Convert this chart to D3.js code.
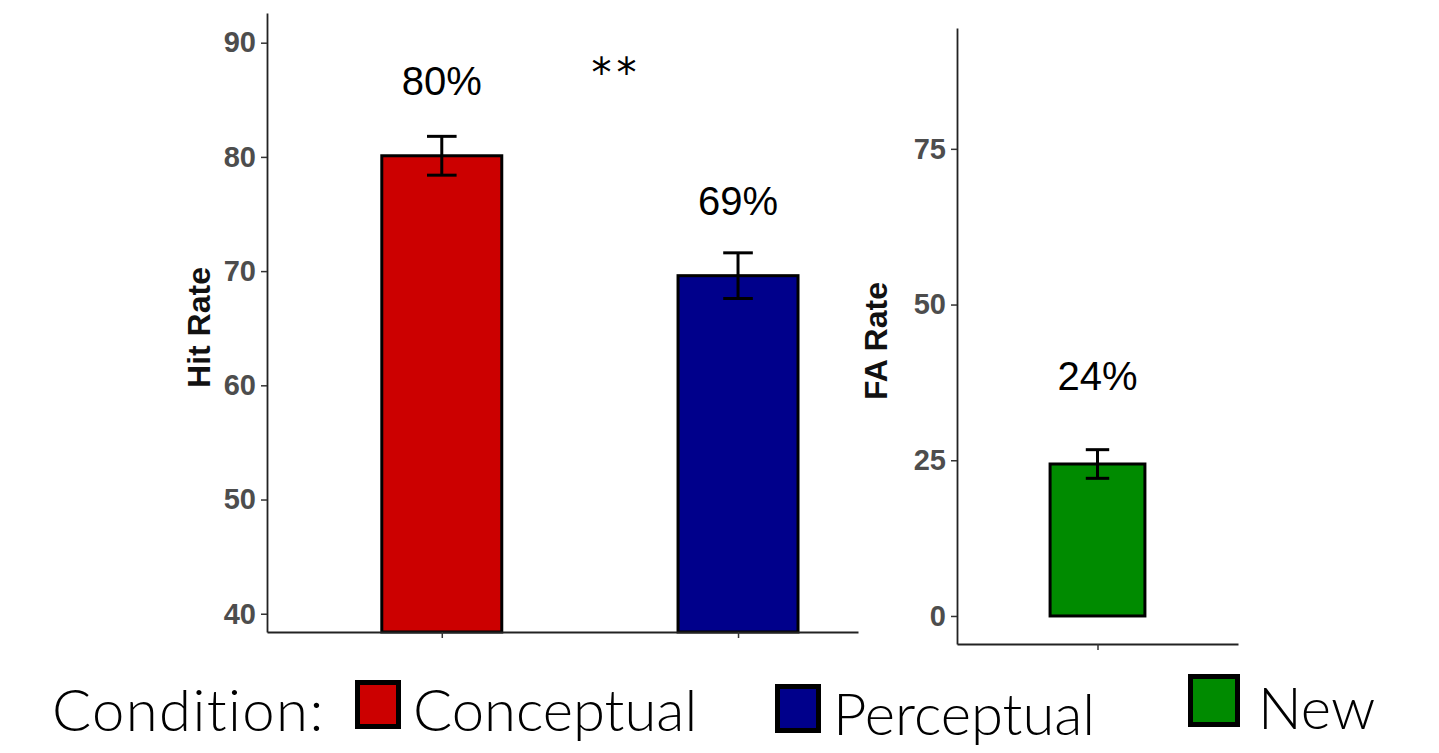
<!DOCTYPE html>
<html>
<head>
<meta charset="utf-8">
<script src="https://d3js.org/d3.v7.min.js"></script>
<style>
  body { margin: 0; background: #fff; }
  svg { display: block; }
</style>
</head>
<body>
<svg width="1439" height="753" id="chart"></svg>
<script>
// data
const hitConditions = ["Conceptual", "Perceptual"];
const hitMeans = [80.1, 69.6];
const hitSE = [1.7, 2.0];
const hitLabels = ["80%", "69%"];
const hitTicks = [40, 50, 60, 70, 80, 90];

const faConditions = ["New"];
const faMeans = [24.4];
const faSE = [2.3];
const faLabels = ["24%"];
const faTicks = [0, 25, 50, 75];

const conditions = ["Conceptual", "Perceptual", "New"];
const colours = ["#cc0000", "#00008b", "#008b00"];
const colour = d3.scaleOrdinal().domain(conditions).range(colours);

const svg = d3.select("#chart");

const barW = 0.405, capW = 0.1;

function panel(opts) {
  const x = d3.scaleLinear().domain(opts.xDomain).range(opts.xRange);
  const y = d3.scaleLinear().domain(opts.yDomain).range(opts.yRange);
  const g = svg.append("g");
  const rows = opts.cats.map((c, i) => ({cat: c, mean: opts.means[i], se: opts.se[i], label: opts.labels[i], pos: i + 1}));

  // bars
  g.selectAll(".bar").data(rows).enter().append("rect")
    .attr("class", "bar")
    .attr("x", d => x(d.pos - barW / 2))
    .attr("width", d => x(d.pos + barW / 2) - x(d.pos - barW / 2))
    .attr("y", d => y(d.mean))
    .attr("height", d => y(opts.base) - y(d.mean))
    .attr("fill", d => colour(d.cat))
    .attr("stroke", "#000")
    .attr("stroke-width", 3);

  // error bars
  const eb = g.selectAll(".err").data(rows).enter().append("g").attr("class", "err")
    .attr("stroke", "#000").attr("stroke-width", 3);
  eb.append("line")
    .attr("x1", d => x(d.pos)).attr("x2", d => x(d.pos))
    .attr("y1", d => y(d.mean - d.se)).attr("y2", d => y(d.mean + d.se));
  eb.append("line")
    .attr("x1", d => x(d.pos - capW / 2)).attr("x2", d => x(d.pos + capW / 2))
    .attr("y1", d => y(d.mean + d.se)).attr("y2", d => y(d.mean + d.se));
  eb.append("line")
    .attr("x1", d => x(d.pos - capW / 2)).attr("x2", d => x(d.pos + capW / 2))
    .attr("y1", d => y(d.mean - d.se)).attr("y2", d => y(d.mean - d.se));

  // percent labels
  g.selectAll(".lab").data(rows).enter().append("text")
    .attr("x", d => x(d.pos))
    .attr("y", d => y(d.mean) - opts.labelOffset)
    .attr("text-anchor", "middle")
    .style("font", "40px 'Liberation Sans', Arial, sans-serif")
    .text(d => d.label);

  // axes
  const yAxis = g.append("g")
    .attr("transform", "translate(" + opts.xRange[0] + ",0)")
    .call(d3.axisLeft(y).tickValues(opts.ticks).tickSize(6).tickPadding(5).tickSizeOuter(0));
  const xAxis = g.append("g")
    .attr("transform", "translate(0," + opts.yRange[0] + ")")
    .call(d3.axisBottom(x).tickValues(rows.map(d => d.pos)).tickSize(6).tickSizeOuter(0).tickFormat(""));
  [yAxis, xAxis].forEach(a => {
    a.select(".domain").attr("stroke", "#222").attr("stroke-width", 1.8);
    a.selectAll(".tick line").attr("stroke", "#333").attr("stroke-width", 1.5);
  });
  yAxis.selectAll(".tick text")
    .attr("fill", "#4d4d4d")
    .style("font", "bold 29px 'Liberation Sans', Arial, sans-serif");

  g.append("text")
    .attr("transform", "translate(" + opts.titleX + "," + ((opts.yRange[0] + opts.yRange[1]) / 2 + opts.titleDy) + ") rotate(-90)")
    .attr("text-anchor", "middle")
    .style("font", "bold 32px 'Liberation Sans', Arial, sans-serif")
    .attr("fill", "#111")
    .text(opts.title);

  return {x, y, g};
}

const left = panel({
  cats: hitConditions, means: hitMeans, se: hitSE, labels: hitLabels, ticks: hitTicks,
  xDomain: [0.41, 2.405], xRange: [267, 858],
  yDomain: [38.4, 92.6], yRange: [632, 13],
  base: 38.4, labelOffset: 61,
  title: "Hit Rate", titleX: 210, titleDy: 5
});

// significance marker between the two hit-rate bars
left.g.append("text")
  .attr("x", left.x(1.59))
  .attr("y", left.y(86.1))
  .attr("text-anchor", "middle")
  .style("font", "40px 'DejaVu Sans', sans-serif")
  .style("letter-spacing", "5px")
  .text("**");

panel({
  cats: faConditions, means: faMeans, se: faSE, labels: faLabels, ticks: faTicks,
  xDomain: [0.4, 1.6], xRange: [957, 1238],
  yDomain: [-4.5, 94.4], yRange: [644, 28],
  base: 0, labelOffset: 74,
  title: "FA Rate", titleX: 887, titleDy: 5
});

// legend
const legendX = [355, 775, 1188];
const legendDy = [0, 4, -2];
const legendBox = [[41, 44], [41, 44], [47, 48]];
const legend = svg.append("g").style("font-family", "Lato, 'Open Sans', sans-serif").style("font-weight", 300);
legend.append("text")
  .attr("x", 52).attr("y", 731)
  .style("font-size", "58px")
  .style("letter-spacing", "1.4px")
  .text("Condition:");
const item = legend.selectAll(".item").data(conditions).enter().append("g")
  .attr("transform", (d, i) => "translate(" + legendX[i] + "," + legendDy[i] + ")");
item.append("rect")
  .attr("x", 2.5).attr("y", (d, i) => 726.5 - legendBox[i][1])
  .attr("width", (d, i) => legendBox[i][0]).attr("height", (d, i) => legendBox[i][1])
  .attr("fill", d => colour(d))
  .attr("stroke", "#000").attr("stroke-width", 5);
item.append("text")
  .attr("x", (d, i) => legendBox[i][0] + 17 + (i === 2 ? 6 : 0)).attr("y", 731)
  .style("font-size", "58px")
  .text(d => d);
</script>
</body>
</html>
